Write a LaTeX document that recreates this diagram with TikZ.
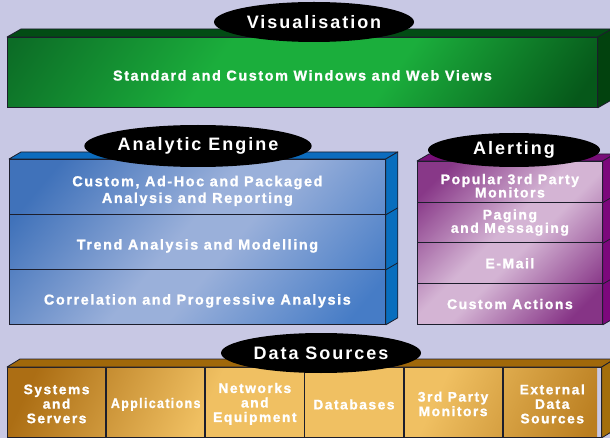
\documentclass[tikz,border=0pt]{standalone}
\usepackage{fontspec}
\setmainfont{Liberation Sans}
\newfontfamily\boxfont{Liberation Sans Bold}[LetterSpace=11, FakeBold=1.2]
\newfontfamily\tagfont{Liberation Sans Bold}[LetterSpace=11]
\usetikzlibrary{shapes.geometric,calc}
\definecolor{bg}{RGB}{200,200,228}
\definecolor{edge}{RGB}{28,30,44}
\definecolor{grD}{RGB}{12,108,38}
\definecolor{grL}{RGB}{27,174,60}
\definecolor{grB}{RGB}{6,88,26}
\definecolor{grT}{RGB}{2,76,20}
\definecolor{grS}{RGB}{2,66,14}
\definecolor{blD}{RGB}{64,114,186}
\definecolor{blL}{RGB}{154,176,218}
\definecolor{blB}{RGB}{70,124,198}
\definecolor{blT}{RGB}{12,108,190}
\definecolor{blS}{RGB}{8,110,190}
\definecolor{puD}{RGB}{136,56,136}
\definecolor{puL}{RGB}{212,180,212}
\definecolor{puB}{RGB}{134,52,134}
\definecolor{puT}{RGB}{120,14,120}
\definecolor{puS}{RGB}{124,8,124}
\definecolor{goD}{RGB}{172,110,20}
\definecolor{goL}{RGB}{240,192,98}
\definecolor{goB}{RGB}{186,126,32}
\definecolor{goT}{RGB}{160,104,10}
\definecolor{goS}{RGB}{164,110,10}
\pgfdeclarehorizontalshading{greenface}{100bp}{color(0bp)=(grD); color(16bp)=(grD); color(40bp)=(grL); color(60bp)=(grL); color(82bp)=(grB); color(100bp)=(grB)}
\pgfdeclarehorizontalshading{blueface}{100bp}{color(0bp)=(blD); color(22bp)=(blD); color(47bp)=(blL); color(55bp)=(blL); color(80bp)=(blB); color(100bp)=(blB)}
\pgfdeclarehorizontalshading{purpleface}{100bp}{color(0bp)=(puD); color(22bp)=(puD); color(46bp)=(puL); color(54bp)=(puL); color(78bp)=(puB); color(100bp)=(puB)}
\pgfdeclarehorizontalshading{goldface}{100bp}{color(0bp)=(goD); color(20bp)=(goD); color(40bp)=(goL); color(64bp)=(goL); color(82bp)=(goB); color(100bp)=(goB)}
\tikzset{
  face/.style={anchor=north west, inner sep=0pt},
  cell/.style={draw=edge, line width=0.8pt, anchor=north west, inner sep=0pt},
  txt/.style={text=white, align=center, inner sep=0pt,
    font=\boxfont\fontsize{14.4}{16.7}\selectfont},
  smalltxt/.style={txt, font=\boxfont\fontsize{14}{13.3}\selectfont},
  datatxt/.style={txt, font=\boxfont\fontsize{13.8}{14.5}\selectfont},
  tag/.style={ellipse, fill=black, text=white, inner sep=0pt,
    font=\tagfont\fontsize{18}{20}\selectfont},
  rim/.style={draw=edge, line width=0.8pt, line join=round}
}
\begin{document}
\begin{tikzpicture}[x=1pt,y=-1pt]
\useasboundingbox (0,0) rectangle (610,438);
\clip (0,0) rectangle (610,438);
\fill[bg] (0,0) rectangle (610,438);

% ---------- Visualisation ----------
\node[face, minimum width=590pt, minimum height=70pt, shading=greenface, shading angle=-35] (visf) at (7,37) {};
\node[cell, minimum width=590pt, minimum height=70pt] (vis) at (7,37) {};
\node[txt, yshift=-3pt] (vist) at (vis.center) {Standard and Custom Windows and Web Views};
\filldraw[rim, fill=grT] (vis.north west) -- ++(14,-8) -- ($(vis.north east)+(14,-8)$) -- (vis.north east) -- cycle;
\filldraw[rim, fill=grS] (vis.north east) -- ++(14,-8) -- ($(vis.south east)+(14,-8)$) -- (vis.south east) -- cycle;

% ---------- Analytic Engine ----------
\node[face, minimum width=376pt, minimum height=165pt, shading=blueface, shading angle=-40] (aef) at (9,159) {};
\node[cell, minimum width=376pt, minimum height=55pt] (ae1) at (9,159) {};
\node[cell, minimum width=376pt, minimum height=55pt] (ae2) at (9,214) {};
\node[cell, minimum width=376pt, minimum height=55pt] (ae3) at (9,269) {};
\node[txt, yshift=-4pt] (ae1t) at (ae1.center) {Custom, Ad-Hoc and Packaged\\Analysis and Reporting};
\node[txt, yshift=-4pt] (ae2t) at (ae2.center) {Trend Analysis and Modelling};
\node[txt, yshift=-4pt] (ae3t) at (ae3.center) {Correlation and Progressive Analysis};
\filldraw[rim, fill=blT] (ae1.north west) -- ++(12,-7) -- ($(ae1.north east)+(12,-7)$) -- (ae1.north east) -- cycle;
\filldraw[rim, fill=blS] (ae1.north east) -- ++(12,-7) -- ($(ae3.south east)+(12,-7)$) -- (ae3.south east) -- cycle;
\draw[rim] (ae1.south east) -- ++(12,-7);
\draw[rim] (ae2.south east) -- ++(12,-7);

% ---------- Alerting ----------
\node[face, minimum width=185pt, minimum height=163pt, shading=purpleface, shading angle=-45] (alf) at (417,161) {};
\node[cell, minimum width=185pt, minimum height=40.75pt] (al1) at (417,161) {};
\node[cell, minimum width=185pt, minimum height=40.75pt] (al2) at (417,201.75) {};
\node[cell, minimum width=185pt, minimum height=40.75pt] (al3) at (417,242.5) {};
\node[cell, minimum width=185pt, minimum height=40.75pt] (al4) at (417,283.25) {};
\node[smalltxt, yshift=-4pt] (al1t) at (al1.center) {Popular 3rd Party\\Monitors};
\node[smalltxt] (al2t) at (al2.center) {Paging\\and Messaging};
\node[smalltxt] (al3t) at (al3.center) {E-Mail};
\node[smalltxt] (al4t) at (al4.center) {Custom Actions};
\filldraw[rim, fill=puT] (al1.north west) -- ++(12,-7) -- ($(al1.north east)+(12,-7)$) -- (al1.north east) -- cycle;
\filldraw[rim, fill=puS] (al1.north east) -- ++(12,-7) -- ($(al4.south east)+(12,-7)$) -- (al4.south east) -- cycle;
\draw[rim] (al1.south east) -- ++(12,-7);
\draw[rim] (al2.south east) -- ++(12,-7);
\draw[rim] (al3.south east) -- ++(12,-7);

% ---------- Data Sources ----------
\node[face, minimum width=590pt, minimum height=70pt, shading=goldface, shading angle=-25] (dsf) at (7,367) {};
\tikzset{dcell/.style={cell, minimum width=98.33pt, minimum height=70pt}}
\node[dcell] (ds1) at (7,367) {};
\node[dcell] (ds2) at (ds1.north east) {};
\node[dcell] (ds3) at (ds2.north east) {};
\node[dcell] (ds4) at (ds3.north east) {};
\node[dcell] (ds5) at (ds4.north east) {};
\node[dcell] (ds6) at (ds5.north east) {};
\node[datatxt, yshift=-1.5pt] (ds1t) at (ds1.center) {Systems\\and\\Servers};
\node[datatxt, yshift=-2pt] (ds2t) at (ds2.center) {\scalebox{0.9}[1]{Applications}};
\node[datatxt, yshift=-1.5pt] (ds3t) at (ds3.center) {Networks\\and\\Equipment};
\node[datatxt, yshift=-2pt] (ds4t) at (ds4.center) {Databases};
\node[datatxt, yshift=-1.5pt] (ds5t) at (ds5.center) {3rd Party\\Monitors};
\node[datatxt, yshift=-1.5pt] (ds6t) at (ds6.center) {External\\Data\\Sources};
\filldraw[rim, fill=goT] (ds1.north west) -- ++(13,-8) -- ($(ds6.north east)+(13,-8)$) -- (ds6.north east) -- cycle;
\filldraw[rim, fill=goS] (ds6.north east) -- ++(13,-8) -- ($(ds6.south east)+(13,-8)$) -- (ds6.south east) -- cycle;

% ---------- Labels ----------
\node[tag, minimum width=200pt, minimum height=40pt] (tvis) at (314,22) {Visualisation};
\node[tag, minimum width=200pt, minimum height=42pt] (tae) at (198,146) {Analytic Engine};
\node[tag, minimum width=172pt, minimum height=34pt] (tal) at (514,150) {Alerting};
\node[tag, minimum width=200pt, minimum height=40pt] (tds) at (321,353) {Data Sources};
\end{tikzpicture}
\end{document}
